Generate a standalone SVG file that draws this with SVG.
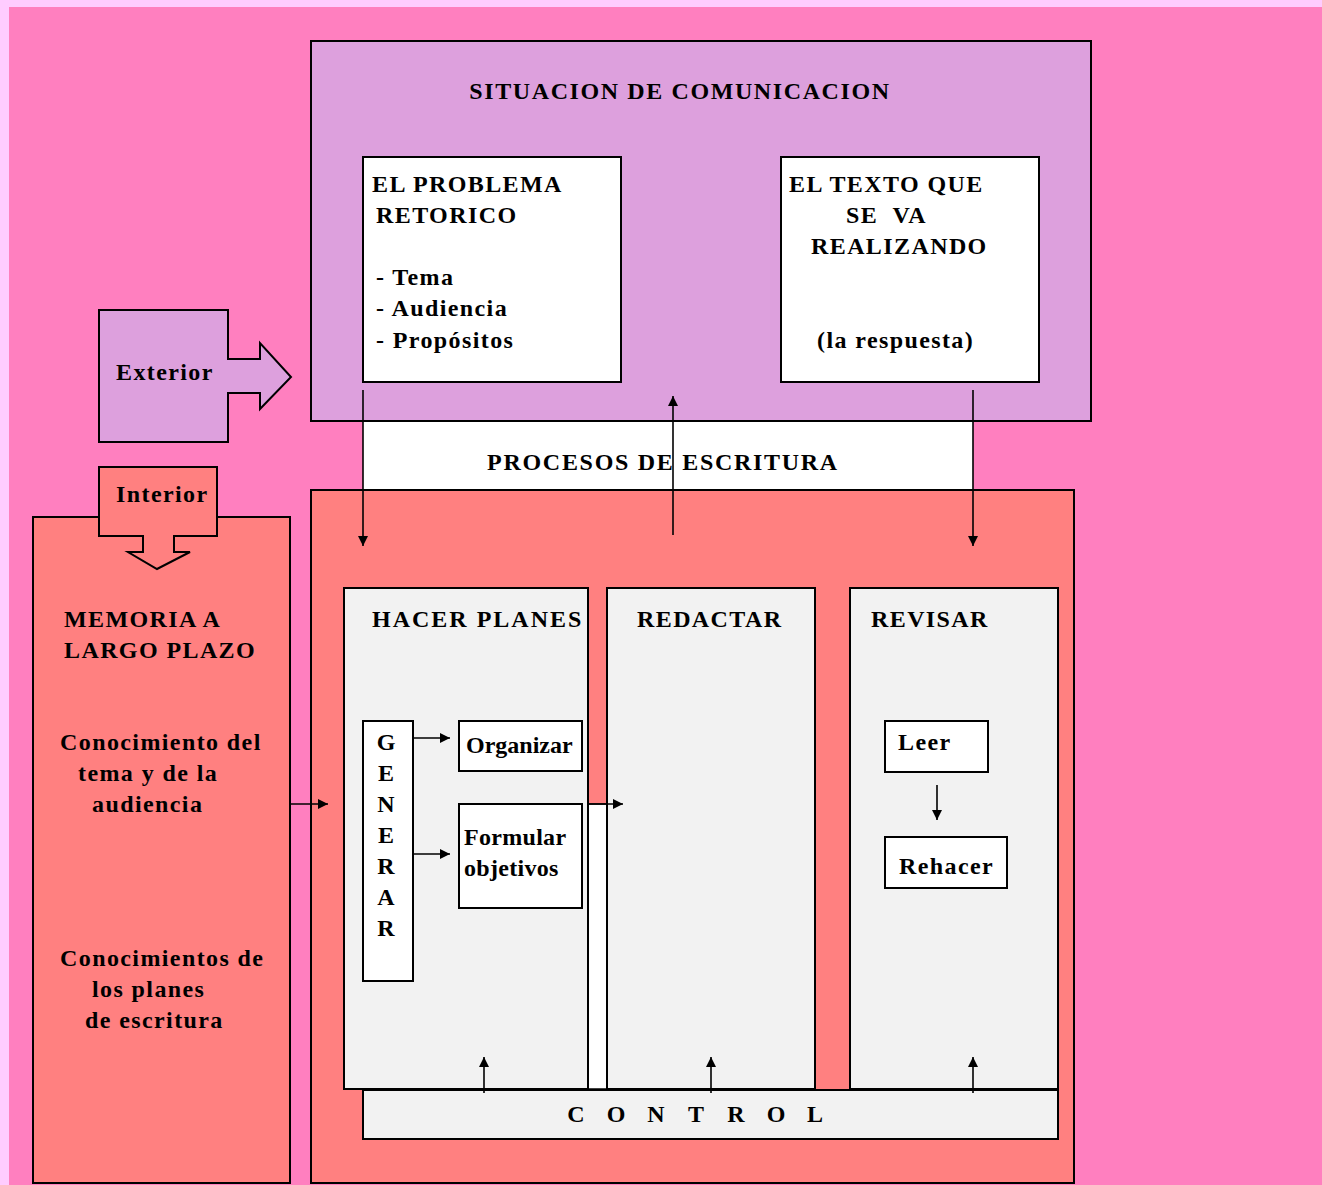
<svg xmlns="http://www.w3.org/2000/svg" width="1322" height="1185" viewBox="0 0 1322 1185">
<defs>
<marker id="ah" viewBox="0 0 10 10" refX="10" refY="5" markerWidth="10" markerHeight="10" markerUnits="userSpaceOnUse" orient="auto">
<path d="M0,0 L10,5 L0,10 Z" fill="#000"/>
</marker>
<style>
.box{stroke:#000;stroke-width:2}
.t{font-family:"Liberation Serif","Times New Roman",serif;font-weight:bold;font-size:24px;fill:#000;letter-spacing:1.4px}
.c{stroke:#000;stroke-width:1.6;fill:none;marker-end:url(#ah)}
</style>
</defs>
<rect x="0" y="0" width="1322" height="1185" fill="#FFCCFF"/>
<rect x="9" y="7" width="1313" height="1178" fill="#FF7FBF"/>

<g id="situacion">
<rect class="box" x="311" y="41" width="780" height="380" fill="#DDA0DD"/>
<text class="t" x="680" y="99" text-anchor="middle" style="letter-spacing:1.6px">SITUACION DE COMUNICACION</text>
</g>

<g id="problema">
<rect class="box" x="363" y="157" width="258" height="225" fill="#FFFFFF"/>
<text class="t" x="372" y="192">EL PROBLEMA</text>
<text class="t" x="376" y="223">RETORICO</text>
<text class="t" x="376" y="285">- Tema</text>
<text class="t" x="376" y="316">- Audiencia</text>
<text class="t" x="376" y="348">- Propósitos</text>
</g>

<g id="texto">
<rect class="box" x="781" y="157" width="258" height="225" fill="#FFFFFF"/>
<text class="t" x="789" y="192">EL TEXTO QUE</text>
<text class="t" x="846" y="223" xml:space="preserve">SE  VA</text>
<text class="t" x="811" y="254">REALIZANDO</text>
<text class="t" x="817" y="348">(la respuesta)</text>
</g>

<g id="exterior">
<path class="box" d="M99,310 L228,310 L228,359 L260,359 L260,343 L291,377 L260,409 L260,393 L228,393 L228,442 L99,442 Z" fill="#DDA0DD"/>
<text class="t" x="116" y="380">Exterior</text>
</g>

<g id="procesos-band">
<rect x="363" y="422" width="610" height="68" fill="#FFFFFF"/>
<text class="t" x="663" y="470" text-anchor="middle" style="letter-spacing:1.7px">PROCESOS DE ESCRITURA</text>
</g>

<g id="memoria">
<rect class="box" x="33" y="517" width="257" height="666" fill="#FF8080"/>
<text class="t" x="64" y="627">MEMORIA A</text>
<text class="t" x="64" y="658">LARGO PLAZO</text>
<text class="t" x="60" y="750">Conocimiento del</text>
<text class="t" x="78" y="781">tema y de la</text>
<text class="t" x="92" y="812">audiencia</text>
<text class="t" x="60" y="966">Conocimientos de</text>
<text class="t" x="92" y="997">los planes</text>
<text class="t" x="85" y="1028">de escritura</text>
</g>

<g id="interior">
<path class="box" d="M99,467 L217,467 L217,536 L174,536 L174,552 L190,552 L157,569 L128,552 L143,552 L143,536 L99,536 Z" fill="#FF8080"/>
<text class="t" x="116" y="502">Interior</text>
</g>

<g id="procesos">
<rect class="box" x="311" y="490" width="763" height="693" fill="#FF8080"/>
<rect x="588" y="804" width="19" height="285" fill="#FFFFFF" stroke="#000" stroke-width="1.5"/>
</g>

<g id="hacer-planes">
<rect class="box" x="344" y="588" width="244" height="501" fill="#F2F2F2"/>
<text class="t" x="372" y="627" style="letter-spacing:2px">HACER PLANES</text>
</g>

<g id="generar">
<rect class="box" x="363" y="721" width="50" height="260" fill="#FFFFFF"/>
<text class="t" x="386 386 386 386 386 386 386" y="750 781 812 843 874 905 936" text-anchor="middle" style="letter-spacing:0">GENERAR</text>
</g>

<g id="organizar">
<rect class="box" x="459" y="721" width="123" height="50" fill="#FFFFFF"/>
<text class="t" x="466" y="753" style="letter-spacing:0">Organizar</text>
</g>

<g id="formular">
<rect class="box" x="459" y="804" width="123" height="104" fill="#FFFFFF"/>
<text class="t" x="464" y="845" style="letter-spacing:0.3px">Formular</text>
<text class="t" x="464" y="876" style="letter-spacing:0.3px">objetivos</text>
</g>

<g id="redactar">
<rect class="box" x="607" y="588" width="208" height="501" fill="#F2F2F2"/>
<text class="t" x="637" y="627">REDACTAR</text>
</g>

<g id="revisar">
<rect class="box" x="850" y="588" width="208" height="501" fill="#F2F2F2"/>
<text class="t" x="871" y="627">REVISAR</text>
</g>

<g id="leer">
<rect class="box" x="885" y="721" width="103" height="51" fill="#FFFFFF"/>
<text class="t" x="898" y="750">Leer</text>
</g>

<g id="rehacer">
<rect class="box" x="885" y="837" width="122" height="51" fill="#FFFFFF"/>
<text class="t" x="899" y="874">Rehacer</text>
</g>

<g id="control">
<rect class="box" x="363" y="1090" width="695" height="49" fill="#F2F2F2"/>
<text class="t" x="576 616 656 696 736 776 815" y="1122" text-anchor="middle" style="letter-spacing:0">CONTROL</text>
</g>

<g id="connectors">
<line class="c" x1="363" y1="390" x2="363" y2="546"/>
<line class="c" x1="673" y1="535" x2="673" y2="396"/>
<line class="c" x1="973" y1="390" x2="973" y2="546"/>
<line class="c" x1="291" y1="804" x2="328" y2="804"/>
<line class="c" x1="588" y1="804" x2="623" y2="804"/>
<line class="c" x1="413" y1="738" x2="450" y2="738"/>
<line class="c" x1="413" y1="854" x2="450" y2="854"/>
<line class="c" x1="937" y1="785" x2="937" y2="820"/>
<line class="c" x1="484" y1="1093" x2="484" y2="1057"/>
<line class="c" x1="711" y1="1093" x2="711" y2="1057"/>
<line class="c" x1="973" y1="1093" x2="973" y2="1057"/>
</g>
</svg>
